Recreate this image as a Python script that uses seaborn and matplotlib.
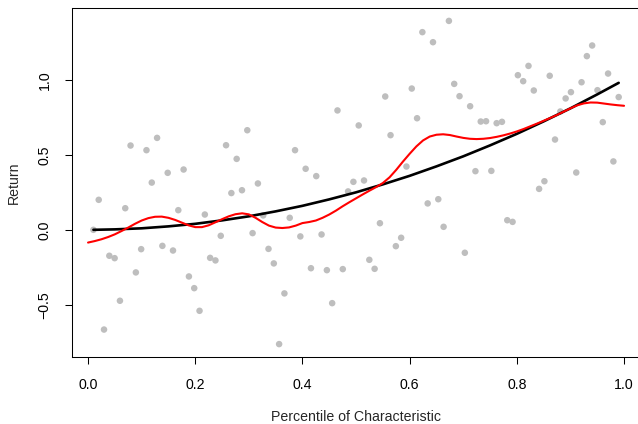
import numpy as np
import pandas as pd
import matplotlib
matplotlib.use("Agg")
import matplotlib.pyplot as plt
import seaborn as sns

# Percentile ranks of the characteristic (evenly spaced grid, 100 portfolios)
percentile = np.linspace(0.01, 0.99, 100)

# Realised returns for each percentile
returns = [
    0.00, 0.20, -0.665, -0.173, -0.189, -0.473, 0.144, 0.562, -0.284, -0.129,
    0.531, 0.315, 0.613, -0.107, 0.38, -0.138, 0.131, 0.402, -0.311, -0.389,
    -0.54, 0.102, -0.187, -0.204, -0.04, 0.564, 0.245, 0.473, 0.264, 0.664,
    -0.022, 0.309, 0.096, -0.127, -0.224, -0.762, -0.424, 0.08, 0.531, -0.044,
    0.407, -0.256, 0.358, -0.031, -0.269, -0.489, 0.796, -0.262, 0.256, 0.32,
    0.696, 0.329, -0.2, -0.26, 0.044, 0.889, 0.631, -0.109, -0.053, 0.422,
    0.942, 0.744, 1.318, 0.176, 1.251, 0.204, 0.02, 1.393, 0.973, 0.891,
    -0.153, 0.824, 0.391, 0.722, 0.724, 0.393, 0.711, 0.72, 0.064, 0.053,
    1.031, 0.991, 1.093, 0.929, 0.273, 0.324, 1.027, 0.602, 0.789, 0.876,
    0.918, 0.382, 0.984, 1.158, 1.229, 0.931, 0.718, 1.042, 0.456, 0.885,
]

# True expected-return curve
true_x = [0.01, 0.05, 0.10, 0.15, 0.20, 0.25, 0.30, 0.35, 0.40, 0.45, 0.50,
          0.55, 0.60, 0.65, 0.70, 0.75, 0.80, 0.85, 0.90, 0.95, 0.99]
true_y = [0.000, 0.003, 0.010, 0.023, 0.040, 0.063, 0.090, 0.123, 0.160, 0.203,
          0.250, 0.303, 0.360, 0.423, 0.490, 0.563, 0.640, 0.723, 0.810, 0.903,
          0.980]

# Nonparametric (smoothing spline) fit, evaluated on a 0.0125 grid
fit_x = np.round(np.arange(81) * 0.0125, 4)
fit_y = [
    -0.085, -0.075, -0.063, -0.048, -0.030, -0.008, 0.015, 0.040, 0.062, 0.078,
    0.087, 0.088, 0.080, 0.066, 0.048, 0.030, 0.018, 0.018, 0.030, 0.050,
    0.071, 0.090, 0.104, 0.110, 0.103, 0.080, 0.052, 0.028, 0.015, 0.012,
    0.016, 0.028, 0.045, 0.052, 0.062, 0.080, 0.102, 0.128, 0.157, 0.184,
    0.210, 0.236, 0.261, 0.285, 0.312, 0.350, 0.400, 0.455, 0.507, 0.556,
    0.596, 0.622, 0.634, 0.637, 0.632, 0.622, 0.613, 0.607, 0.605, 0.607,
    0.612, 0.620, 0.630, 0.642, 0.656, 0.672, 0.690, 0.708, 0.727, 0.746,
    0.766, 0.788, 0.810, 0.830, 0.843, 0.849, 0.848, 0.842, 0.836, 0.831,
    0.827,
]

sns.set_style("white")
plt.rcParams["font.family"] = ["Liberation Sans", "DejaVu Sans"]
FS = 10.2
plt.rcParams["font.size"] = FS

fig = plt.figure(figsize=(6.38, 4.24), dpi=100)
W, H = 638.0, 424.0
AX_L, AX_R, AX_T, AX_B = 72.4, 639.7, 8.0, 357.0
ax = fig.add_axes([AX_L / W, (H - AX_B) / H, (AX_R - AX_L) / W, (AX_B - AX_T) / H])

pts = pd.DataFrame({"pct": percentile, "ret": returns})
sns.scatterplot(data=pts, x="pct", y="ret", ax=ax, color="#BEBEBE", s=22,
                edgecolor="none", linewidth=0, zorder=2)
sns.lineplot(x=true_x, y=true_y, ax=ax, color="black", linewidth=1.9,
             estimator=None, sort=False, zorder=3)
sns.lineplot(x=fit_x, y=fit_y, ax=ax, color="#FF0000", linewidth=1.5,
             estimator=None, sort=False, zorder=4)

ax.set_xlim(-0.0292, 1.0292)
ax.set_ylim(-0.848, 1.479)
ax.set_xticks([0.0, 0.2, 0.4, 0.6, 0.8, 1.0])
ax.set_xticklabels(["0.0", "0.2", "0.4", "0.6", "0.8", "1.0"])
ax.set_yticks([-0.5, 0.0, 0.5, 1.0])
ax.set_yticklabels(["\u22120.5", "0.0", "0.5", "1.0"], rotation=90, va="center")

for s in ax.spines.values():
    s.set_color("black")
    s.set_linewidth(0.75)
ax.tick_params(axis="both", direction="out", length=5, width=0.75,
               color="black", labelcolor="black", labelsize=FS, bottom=True, left=True)
ax.tick_params(axis="x", pad=10)
ax.tick_params(axis="y", pad=10)

ax.set_xlabel("Percentile of Characteristic", fontsize=FS, va="center")
ax.set_ylabel("Return", fontsize=FS, va="center", ha="center")
ax.xaxis.set_label_coords(0.5, -(417 - AX_B) / (AX_B - AX_T))
ax.yaxis.set_label_coords(-(AX_L - 14) / (AX_R - AX_L), 0.5)

fig.savefig("out.png", dpi=100)
